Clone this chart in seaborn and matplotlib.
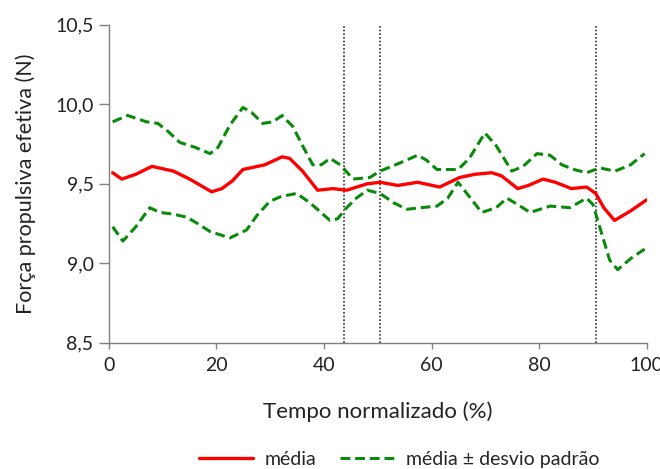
import numpy as np
import pandas as pd
import matplotlib
matplotlib.use("Agg")
import matplotlib.pyplot as plt
import seaborn as sns
from matplotlib.ticker import FuncFormatter

sns.set_style("white")
plt.rcParams['font.family'] = ['Lato', 'DejaVu Sans']

# tempo normalizado (%) e força (N)
x_media = [0.7, 2.4, 5, 8, 12, 15, 19.1, 21, 23, 24.9, 29, 32.2, 33.6, 36, 38.8, 41.6,
           44.2, 48, 50.4, 53.7, 57.4, 61.5, 65.2, 68, 71.2, 73, 76, 78, 80.7, 83,
           86, 88.8, 90.5, 92, 94, 97, 100]
media = [9.57, 9.53, 9.56, 9.61, 9.58, 9.53, 9.45, 9.47, 9.52, 9.59, 9.62, 9.67, 9.66, 9.58,
         9.46, 9.47, 9.46, 9.50, 9.51, 9.49, 9.51, 9.48, 9.54, 9.56, 9.57, 9.55, 9.47,
         9.49, 9.53, 9.51, 9.47, 9.48, 9.44, 9.35, 9.27, 9.33, 9.40]

x_sup = [0.7, 3.5, 7, 9.1, 11, 13.2, 16, 18.8, 20.3, 22.5, 24.9, 26.5, 28.6, 30.5, 32.2,
         34.2, 36, 37.9, 39.5, 41.1, 43, 45.4, 48.5, 50.4, 54, 57.4, 59, 61, 64.9, 67,
         69.9, 72, 74.9, 77, 79.6, 82, 84.2, 86.5, 88.8, 91.3, 94.1, 97, 99.6]
sup = [9.89, 9.93, 9.89, 9.88, 9.83, 9.76, 9.73, 9.69, 9.73, 9.87, 9.98, 9.95, 9.88, 9.89, 9.93,
       9.86, 9.74, 9.62, 9.62, 9.66, 9.62, 9.53, 9.54, 9.58, 9.63, 9.68, 9.65, 9.59, 9.59, 9.66,
       9.82, 9.74, 9.58, 9.61, 9.69, 9.68, 9.62, 9.59, 9.57, 9.60, 9.58, 9.62, 9.69]

x_inf = [0.7, 2.6, 5, 7.6, 9.5, 11.9, 14.5, 16.5, 18.8, 22.5, 25.6, 27.5, 29.9, 32,
         34.9, 37.4, 41.1, 42.5, 44.2, 46, 48, 50.4, 53, 55.4, 58, 61, 63, 64.9, 67,
         69.3, 72, 74, 76, 78.3, 82, 85.7, 88.8, 90, 91.5, 93.1, 94.6, 97, 99.6]
inf = [9.23, 9.14, 9.23, 9.35, 9.32, 9.31, 9.29, 9.25, 9.20, 9.16, 9.21, 9.30, 9.39, 9.42,
       9.44, 9.38, 9.27, 9.28, 9.35, 9.41, 9.46, 9.44, 9.38, 9.34, 9.35, 9.36, 9.41, 9.51, 9.42,
       9.32, 9.35, 9.41, 9.37, 9.32, 9.36, 9.35, 9.41, 9.37, 9.20, 9.02, 8.96, 9.03, 9.09]

divisoes = [43.7, 50.4, 90.5]

red = "#ff0000"
green = "#0a8a0a"

fig = plt.figure(figsize=(6.6, 4.69), dpi=100)
ax = fig.add_axes([0.165, 0.269, 0.815, 0.678])

sns.lineplot(x=x_sup, y=sup, ax=ax, color=green, lw=2.2, linestyle=(0, (3.2, 1.6)))
sns.lineplot(x=x_inf, y=inf, ax=ax, color=green, lw=2.2, linestyle=(0, (3.2, 1.6)))
sns.lineplot(x=x_media, y=media, ax=ax, color=red, lw=2.4)

for d in divisoes:
    ax.axvline(d, color="#333333", lw=1.2, linestyle=(0, (1, 1.2)), zorder=0)

ax.set_xlim(0, 100)
ax.set_ylim(8.5, 10.5)
ax.set_xticks([0, 20, 40, 60, 80, 100])
ax.set_yticks([8.5, 9.0, 9.5, 10.0, 10.5])
ax.yaxis.set_major_formatter(FuncFormatter(lambda v, p: f"{v:.1f}".replace(".", ",")))

for s in ["top", "right"]:
    ax.spines[s].set_visible(False)
for s in ["left", "bottom"]:
    ax.spines[s].set_color("#808080")
    ax.spines[s].set_linewidth(1.0)

ax.tick_params(axis="y", direction="out", length=7, width=1, color="#808080",
               labelsize=14, pad=4, left=True)
ax.tick_params(axis="x", direction="out", length=4, width=1, color="#808080",
               labelsize=14, pad=6, bottom=True)

ax.set_xlabel("Tempo normalizado (%)", fontsize=16, labelpad=20, color="#222222")
ax.set_ylabel("Força propulsiva efetiva (N)", fontsize=15.5, labelpad=14, color="#222222")
for lbl in ax.get_xticklabels() + ax.get_yticklabels():
    lbl.set_color("#222222")

h1, = ax.plot([], [], color=red, lw=2.4)
h2, = ax.plot([], [], color=green, lw=2.2, linestyle=(0, (3.2, 1.6)))
fig.legend([h1, h2], ["média", "média ± desvio padrão"], loc="lower center",
           bbox_to_anchor=(0.605, -0.035), ncol=2, frameon=False, fontsize=14,
           handlelength=2.8, columnspacing=1.2, handletextpad=0.6)

fig.savefig("out.png", dpi=100)
